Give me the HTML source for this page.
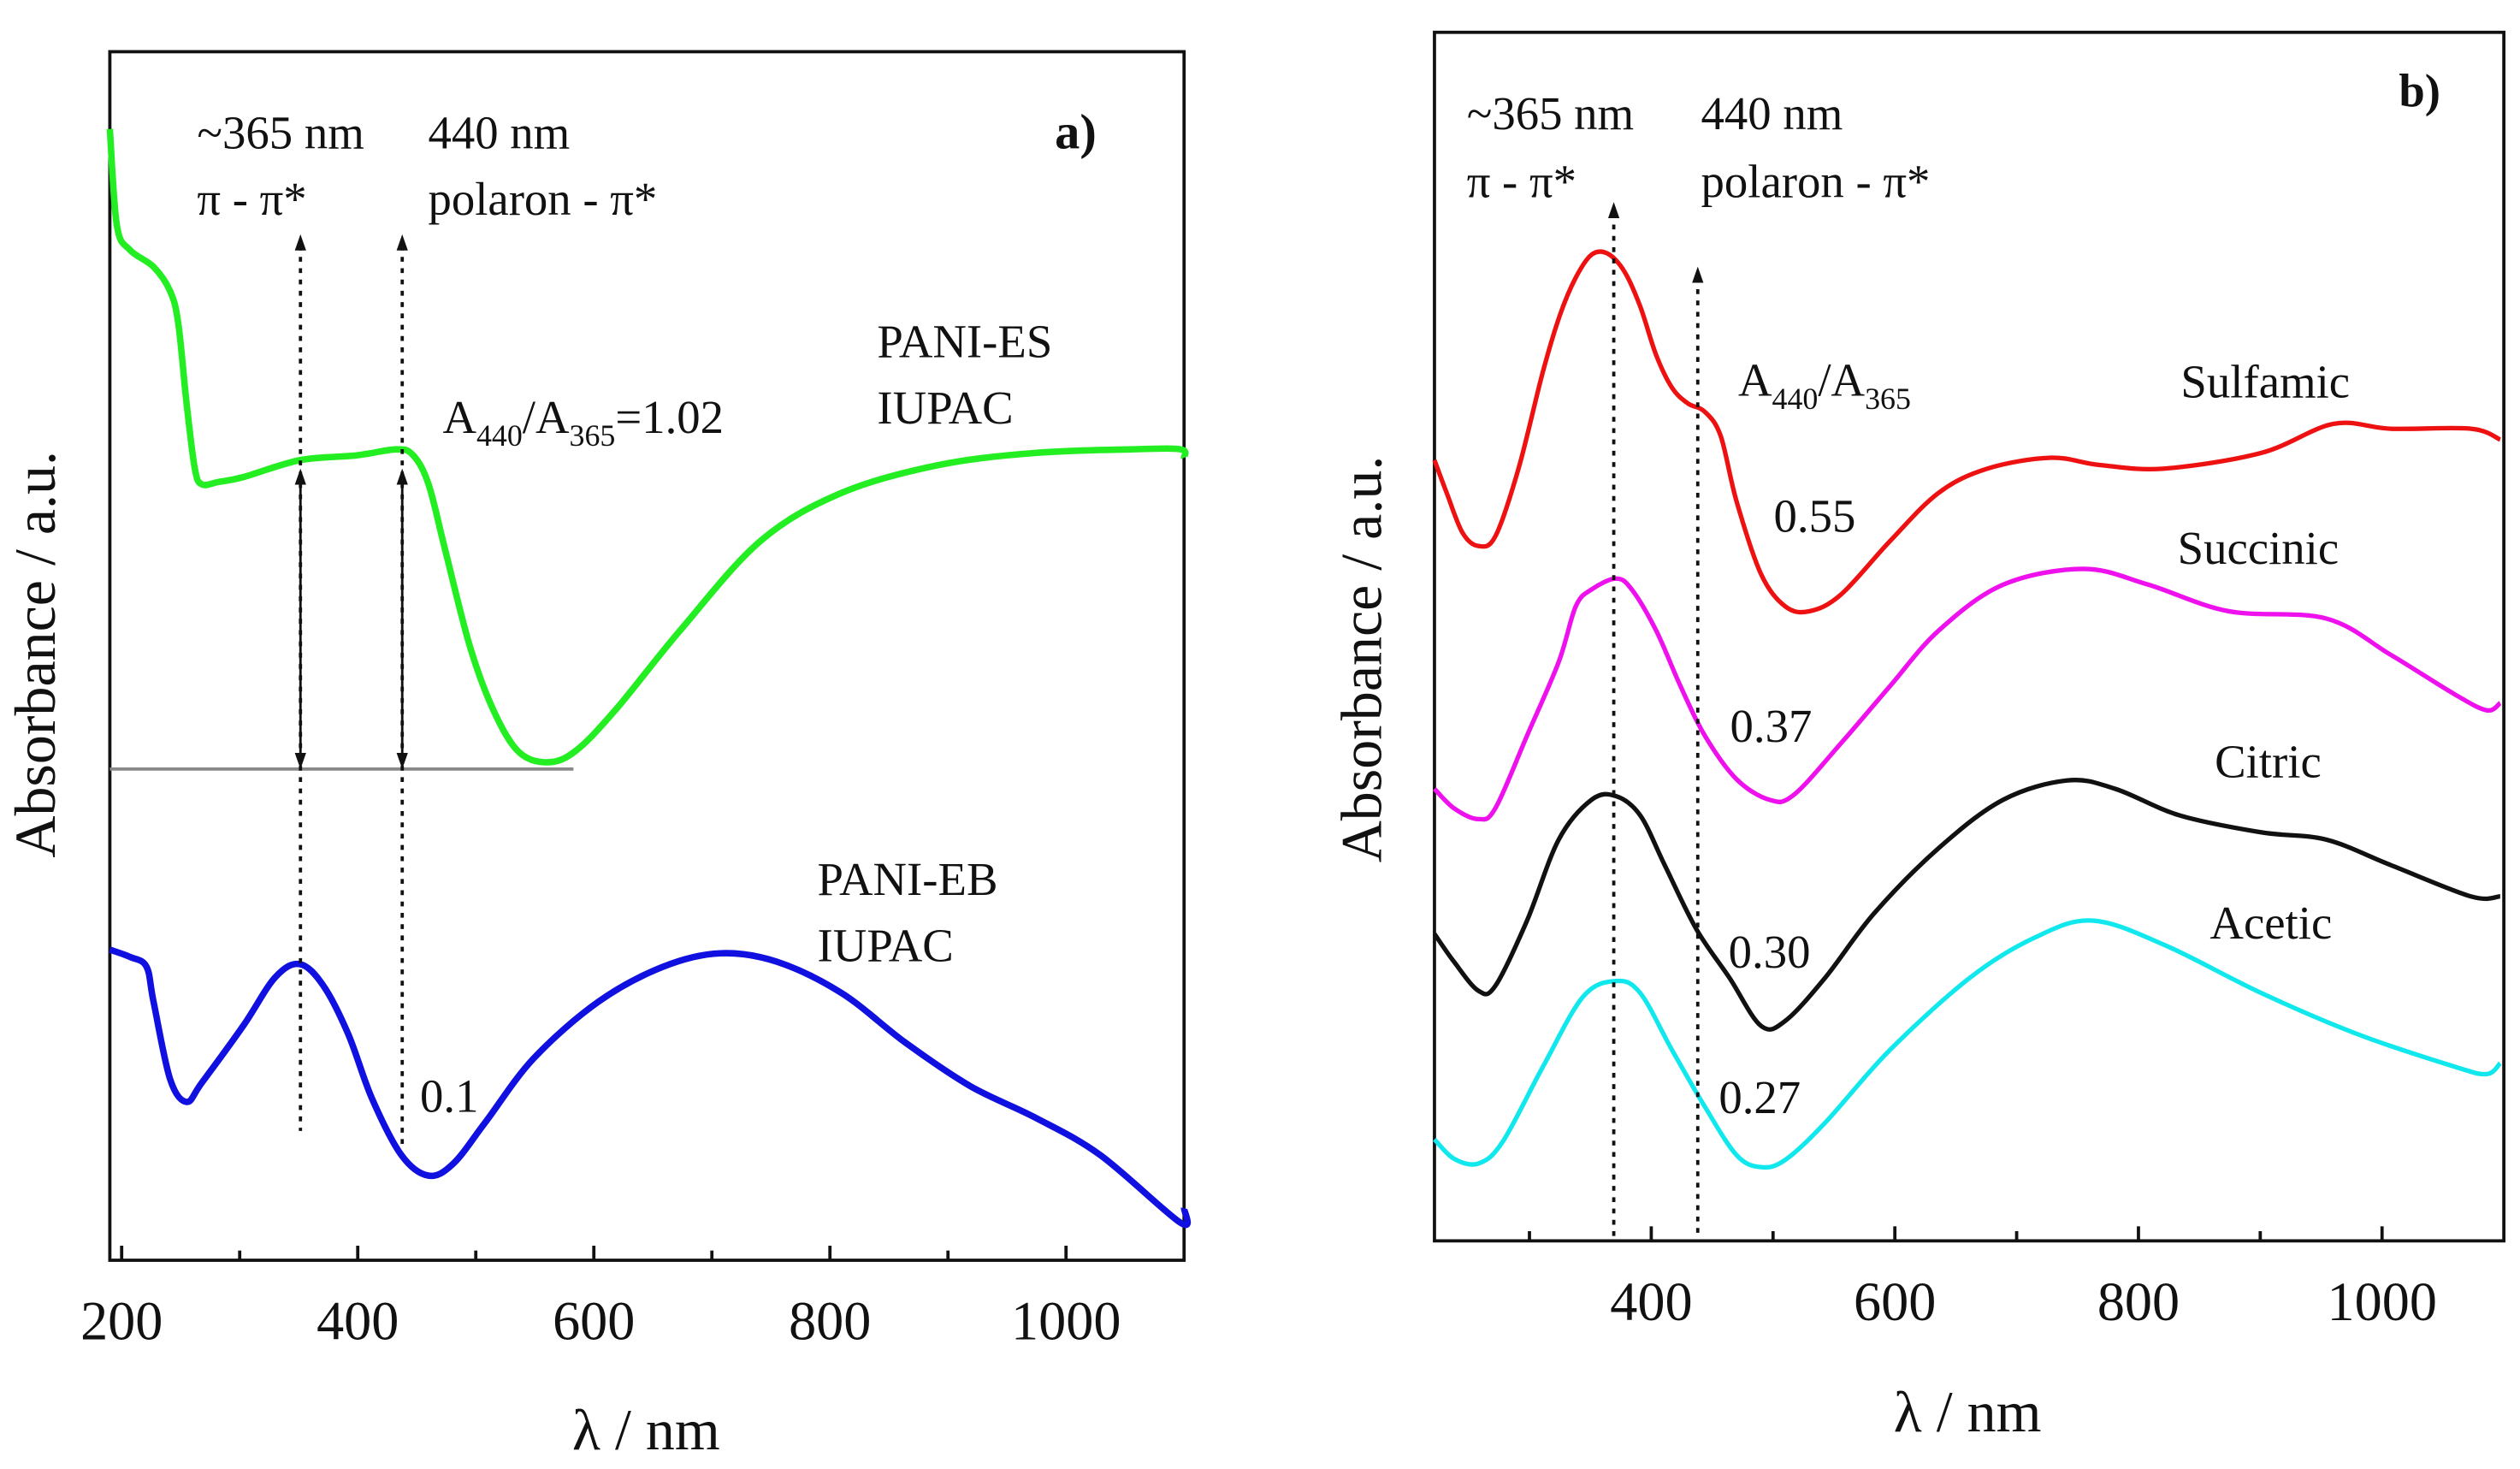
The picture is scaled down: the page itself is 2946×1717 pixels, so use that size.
<!DOCTYPE html>
<html><head><meta charset="utf-8"><style>
html,body{margin:0;padding:0;background:#fff}
svg{display:block}
text{font-family:"Liberation Serif",serif;fill:#111}
</style></head><body>
<svg id="fig" width="2946" height="1717" viewBox="0 0 1560 909.2" xmlns="http://www.w3.org/2000/svg">
<g id="pa"></g>
<g id="pb"></g>
</svg>
<script>
// ---- Panel a data ----
const aTicksMajor = [200, 400, 600, 800, 1000];
const aTicksMinor = [300, 500, 700, 900];
const esNm = [190,196,207,227,241,248,255,262,268,282,303,351,399,433,447,460,474,495,515,536,560,584,618,673,741,810,892,974,1056,1097,1100];
const esAbs = [93.6,85.6,83.6,82.2,80.2,77.5,70.9,65.5,64.2,64.4,64.8,66.2,66.6,67.1,66.6,64.2,58.8,50.8,45.5,42.1,41.2,42.1,45.5,52.1,59.5,63.5,65.8,66.8,67.1,67.1,66.4];
const ebNm = [190,207,221,227,241,255,268,303,330,351,371,392,412,437,460,481,508,549,604,659,707,755,810,864,919,974,1029,1097,1100];
const ebAbs = [25.7,25.1,24.3,21.4,15.0,13.1,14.7,19.4,23.4,24.5,22.7,18.7,13.4,8.7,7.0,8.0,11.4,16.7,21.4,24.3,25.4,24.7,22.1,18.0,14.4,11.8,8.7,3.1,4.3];
// ---- Panel b data ----
const bTicksMajor = [400, 600, 800, 1000];
const bTicksMinor = [300, 500, 700, 900];
const sulNm = [222,232,245,258,272,291,311,325,338,351,364,378,391,404,417,430,444,457,470,490,510,530,556,596,636,676,728,768,821,901,960,1007,1073,1097];
const sulAbs = [64.6,61.9,58.6,57.5,58.3,63.9,71.9,76.6,79.7,81.6,81.7,80.2,77.3,73.3,70.6,69.3,68.6,66.6,61.2,55.2,52.5,52.1,53.5,57.9,61.9,63.9,64.8,64.2,63.9,65.2,67.6,67.2,67.2,66.3];
const sucNm = [222,238,258,272,298,324,338,351,371,384,404,424,444,470,497,517,556,596,636,689,755,808,874,954,1007,1060,1086,1097];
const sucAbs = [37.4,35.8,34.9,35.8,41.8,47.9,52.5,53.9,54.8,53.9,50.5,45.9,41.8,38.2,36.5,36.9,41.2,45.9,50.5,54.3,55.6,54.3,52.1,51.5,48.5,45.2,43.9,44.5];
const citNm = [222,238,258,272,298,324,351,371,391,411,437,464,490,510,543,583,636,689,742,781,834,901,954,1007,1073,1097];
const citAbs = [25.4,23.1,20.7,21.1,26.5,33.2,36.5,36.8,35.2,31.1,25.8,21.8,17.8,18.2,21.8,27.1,32.5,36.5,38.1,37.4,35.2,33.8,33.2,31.1,28.5,28.5];
const aceNm = [222,238,258,278,311,344,371,391,417,444,470,490,510,543,596,662,715,762,821,901,980,1060,1086,1097];
const aceAbs = [8.4,6.8,6.4,8.2,14.4,20.2,21.5,20.5,15.8,11.1,7.1,6.1,6.7,9.8,15.8,21.8,25.1,26.5,24.5,20.5,17.1,14.4,13.8,14.7];

const NS = "http://www.w3.org/2000/svg";
function mk(parent, tag, attrs, txt){
  const e = document.createElementNS(NS, tag);
  for (const k in attrs) e.setAttribute(k, attrs[k]);
  if (txt !== undefined) e.innerHTML = txt;
  parent.appendChild(e); return e;
}
function smooth(pts){
  let d = "M" + pts[0][0].toFixed(2) + "," + pts[0][1].toFixed(2);
  for (let i = 0; i < pts.length - 1; i++){
    const p0 = pts[Math.max(0,i-1)], p1 = pts[i], p2 = pts[i+1], p3 = pts[Math.min(pts.length-1,i+2)];
    const c1x = p1[0] + (p2[0]-p0[0])/6, c1y = p1[1] + (p2[1]-p0[1])/6;
    const c2x = p2[0] - (p3[0]-p1[0])/6, c2y = p2[1] - (p3[1]-p1[1])/6;
    d += "C" + c1x.toFixed(2)+","+c1y.toFixed(2)+" "+c2x.toFixed(2)+","+c2y.toFixed(2)+" "+p2[0].toFixed(2)+","+p2[1].toFixed(2);
  }
  return d;
}
function panel(g, cfg){
  const X = nm => cfg.x0 + (nm - cfg.nmMin) / (cfg.nmMax - cfg.nmMin) * (cfg.x1 - cfg.x0);
  const Y = v => cfg.y1 - v / 100 * (cfg.y1 - cfg.y0);
  const frame = mk(g, "rect", {x:cfg.x0, y:cfg.y0, width:cfg.x1-cfg.x0, height:cfg.y1-cfg.y0, fill:"none", stroke:"#111", "stroke-width":2});
  
  
  cfg.major.forEach(t => {
    const l = mk(g, "line", {x1:X(t), x2:X(t), y1:cfg.y1, y2:cfg.y1-9, stroke:"#111", "stroke-width":2});
    
    
    const tx = mk(g, "text", {x:X(t), y:cfg.y1+49, "font-size":34, "text-anchor":"middle"}, String(t));
    
    
  });
  cfg.minor.forEach(t => {
    const l = mk(g, "line", {x1:X(t), x2:X(t), y1:cfg.y1, y2:cfg.y1-6, stroke:"#111", "stroke-width":2});
    
    
  });
  cfg.series.forEach(s => {
    const pts = s.nm.map((n,i) => [X(n), Y(s.v[i])]);
    const p = mk(g, "path", {d:smooth(pts), fill:"none", stroke:s.color, "stroke-width":s.w, "stroke-linejoin":"round"});
    
    
  });
  return {X, Y};
}
function arrowUp(g, x, y){
  const a = mk(g, "path", {d:`M${x-3.5},${y+10} L${x},${y} L${x+3.5},${y+10} Z`, fill:"#111"});
  
  
}
function arrowDown(g, x, y){
  const a = mk(g, "path", {d:`M${x-3.5},${y-10} L${x},${y} L${x+3.5},${y-10} Z`, fill:"#111"});
  
  
}
function label(g, x, y, html, name, size, extra){
  const t = mk(g, "text", Object.assign({x:x, y:y, "font-size":size||29}, extra||{}), html);
  
  
  return t;
}

// Panel a
const ga = document.getElementById("pa");
const A = panel(ga, {x0:68, x1:733, y0:32, y1:780, nmMin:190, nmMax:1100, major:aTicksMajor, minor:aTicksMinor,
  series:[{nm:esNm, v:esAbs, color:"#22ee22", w:4, name:"pani-es-curve"},{nm:ebNm, v:ebAbs, color:"#1010e0", w:4, name:"pani-eb-curve"}]});
const base = mk(ga, "line", {x1:68, x2:355, y1:476, y2:476, stroke:"#888", "stroke-width":2});


[[186,700],[249,710]].forEach(([x,yb]) => {
  const d = mk(ga, "line", {x1:x, x2:x, y1:152, y2:yb, stroke:"#111", "stroke-width":2, "stroke-dasharray":"3,4"});
  
  
  arrowUp(ga, x, 145);
  const s = mk(ga, "line", {x1:x, x2:x, y1:300, y2:466, stroke:"#111", "stroke-width":1.5});
  
  
  arrowUp(ga, x, 290); arrowDown(ga, x, 476);
});
label(ga, 122, 92, "~365 nm", "label-365nm");
label(ga, 122, 133, "π - π*", "label-pi-pi");
label(ga, 265, 92, "440 nm", "label-440nm");
label(ga, 265, 133, "polaron - π*", "label-polaron");
label(ga, 653, 92, "a)", "panel-label-a", 31, {"font-weight":"bold"});
label(ga, 543, 221, "PANI-ES", "label-pani-es");
label(ga, 543, 262, "IUPAC", "label-iupac-es");
label(ga, 274, 268, 'A<tspan font-size="19" dy="8">440</tspan><tspan dy="-8">/A</tspan><tspan font-size="19" dy="8">365</tspan><tspan dy="-8">=1.02</tspan>', "label-ratio-a");
label(ga, 506, 554, "PANI-EB", "label-pani-eb");
label(ga, 506, 595, "IUPAC", "label-iupac-eb");
label(ga, 260, 688, "0.1", "label-0-1");
label(ga, 0, 0, "Absorbance / a.u.", "y-axis-title-a", 36, {transform:"translate(34,405) rotate(-90)", "text-anchor":"middle"});
label(ga, 400, 897, "λ / nm", "x-axis-title-a", 36, {"text-anchor":"middle"});

// Panel b
const gb = document.getElementById("pb");
panel(gb, {x0:888, x1:1550, y0:20, y1:768, nmMin:222, nmMax:1100, major:bTicksMajor, minor:bTicksMinor,
  series:[{nm:sulNm, v:sulAbs, color:"#ee1111", w:2.8, name:"sulfamic-curve"},{nm:sucNm, v:sucAbs, color:"#ee11ee", w:2.8, name:"succinic-curve"},
          {nm:citNm, v:citAbs, color:"#111111", w:2.8, name:"citric-curve"},{nm:aceNm, v:aceAbs, color:"#11e8ee", w:2.8, name:"acetic-curve"}]});
[[999,125],[1051,165]].forEach(([x,yt]) => {
  const d = mk(gb, "line", {x1:x, x2:x, y1:yt+7, y2:768, stroke:"#111", "stroke-width":2, "stroke-dasharray":"3,4"});
  
  
  arrowUp(gb, x, yt);
});
label(gb, 908, 80, "~365 nm", "label-365nm-b");
label(gb, 908, 122, "π - π*", "label-pi-pi-b");
label(gb, 1053, 80, "440 nm", "label-440nm-b");
label(gb, 1053, 122, "polaron - π*", "label-polaron-b");
label(gb, 1485, 66, "b)", "panel-label-b", 29, {"font-weight":"bold"});
label(gb, 1076, 245, 'A<tspan font-size="19" dy="8">440</tspan><tspan dy="-8">/A</tspan><tspan font-size="19" dy="8">365</tspan>', "label-ratio-b");
label(gb, 1350, 246, "Sulfamic", "label-sulfamic");
label(gb, 1098, 329, "0.55", "value-sulfamic");
label(gb, 1348, 349, "Succinic", "label-succinic");
label(gb, 1071, 459, "0.37", "value-succinic");
label(gb, 1371, 481, "Citric", "label-citric");
label(gb, 1070, 599, "0.30", "value-citric");
label(gb, 1368, 581, "Acetic", "label-acetic");
label(gb, 1064, 689, "0.27", "value-acetic");
label(gb, 0, 0, "Absorbance / a.u.", "y-axis-title-b", 36, {transform:"translate(855,408) rotate(-90)", "text-anchor":"middle"});
label(gb, 1218, 886, "λ / nm", "x-axis-title-b", 36, {"text-anchor":"middle"});
</script>
</body></html>
